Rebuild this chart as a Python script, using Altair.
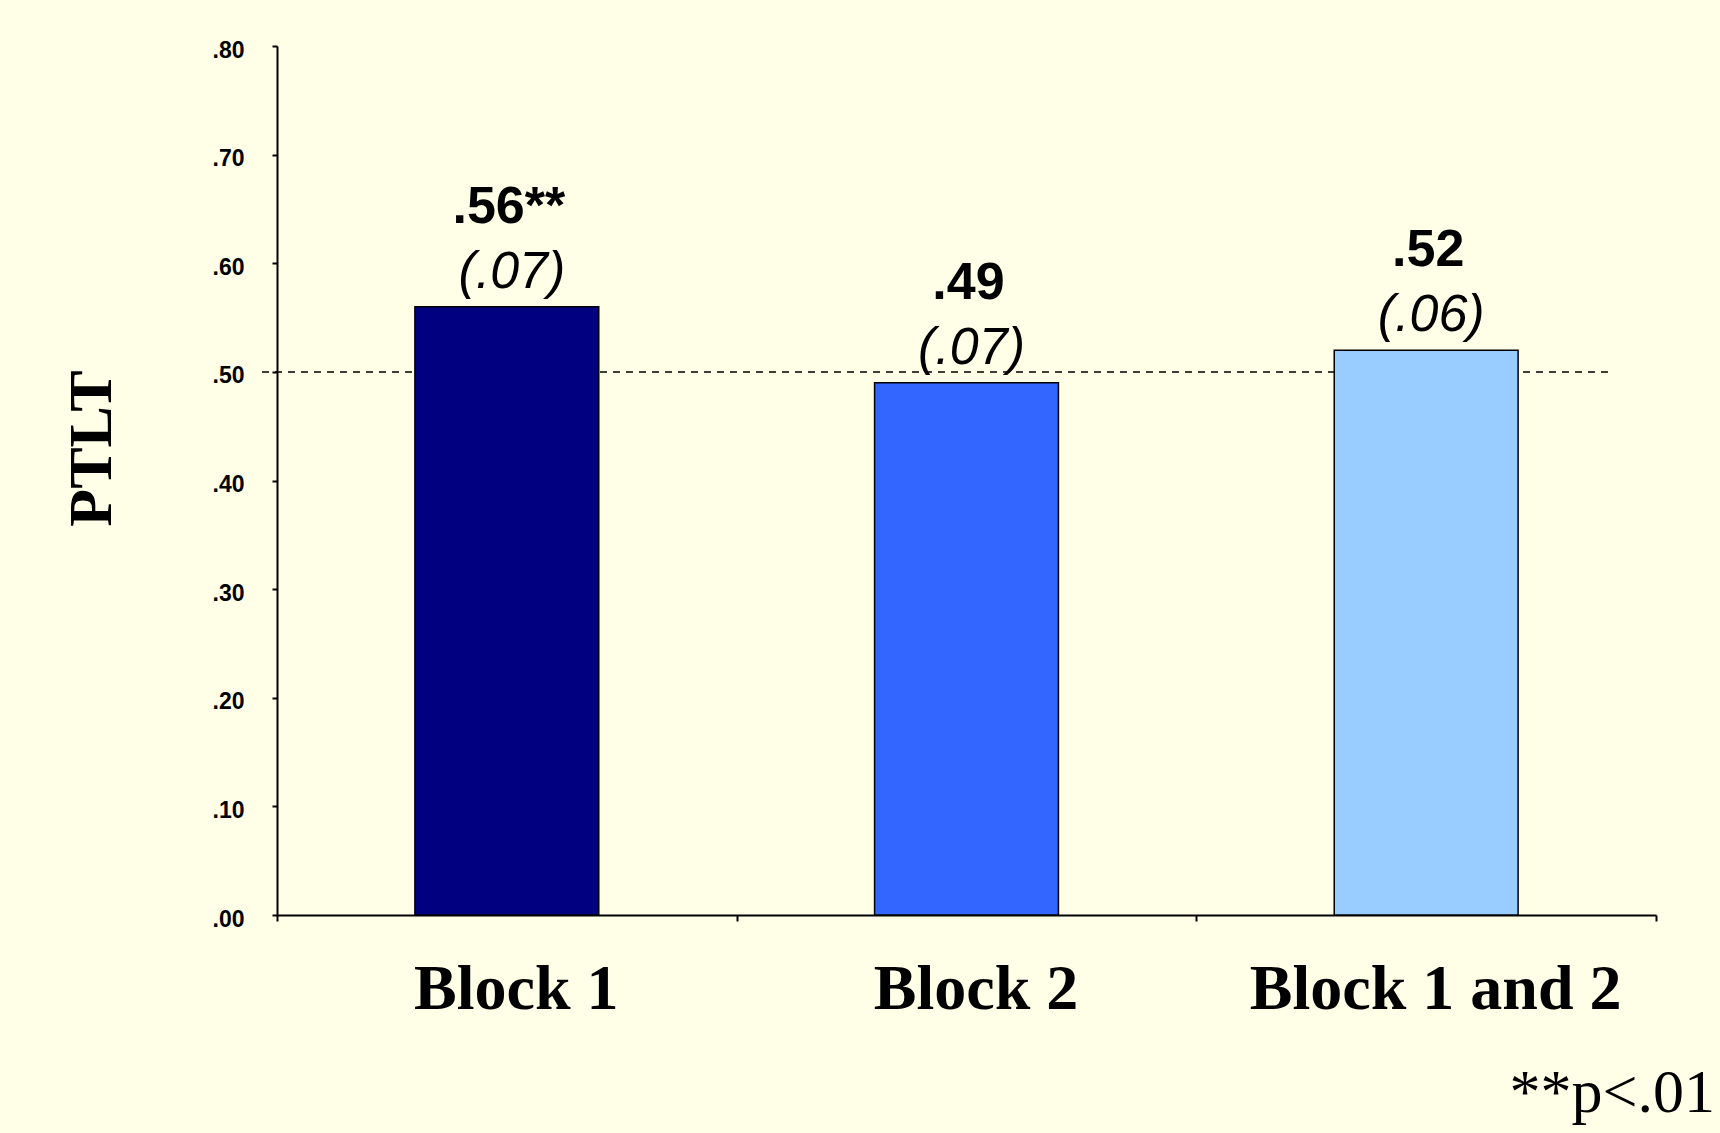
import altair as alt
import pandas as pd

categories = ["Block 1", "Block 2", "Block 1 and 2"]
values = [0.56, 0.49, 0.52]
value_labels = [".56**", ".49", ".52"]
se_labels = ["(.07)", "(.07)", "(.06)"]
colors = ["#000080", "#3366FF", "#99CCFF"]
reference = [0.50]
y_ticks = [0.0, 0.1, 0.2, 0.3, 0.4, 0.5, 0.6, 0.7, 0.8]
footnote = "**p<.01"

df = pd.DataFrame({"cat": categories, "val": values, "vlab": value_labels,
                   "selab": se_labels, "color": colors})
ref_df = pd.DataFrame({"ref": reference})
foot_df = pd.DataFrame({"t": [footnote]})

W, H = 1379, 869

x_scale = alt.Scale(paddingInner=0, paddingOuter=0)
x_enc = alt.X("cat:N", sort=categories, title=None, scale=x_scale,
              axis=alt.Axis(labelAngle=0, labelFont="Liberation Serif", labelFontWeight="bold",
                            labelFontSize=64, labelColor="black", labelPadding=36, labelLimit=1000,
                            labelOffset=9,
                            tickSize=6, tickBand="extent", tickColor="black", tickWidth=2,
                            domainColor="black", domainWidth=2, labelOverlap=False))
y_scale = alt.Scale(domain=[0, 0.8], nice=False)

bars = alt.Chart(df).mark_bar(stroke="black", strokeWidth=1.5,
                              width=alt.RelativeBandSize(0.4)).encode(
    x=x_enc,
    y=alt.Y("val:Q", scale=y_scale, title="PTLT",
            axis=alt.Axis(values=y_ticks, grid=False,
                          labelExpr="substring(format(datum.value, '.2f'), 1)",
                          labelFont="Liberation Sans", labelFontWeight="bold", labelFontSize=23,
                          labelColor="black", labelPadding=28, labelOffset=4,
                          tickSize=5, tickColor="black", tickWidth=2,
                          domainColor="black", domainWidth=2,
                          titleFont="Liberation Serif", titleFontWeight="bold", titleFontSize=62,
                          titleColor="black", titleAngle=270, titleX=-167, titleY=402,
                          titleBaseline="alphabetic", titleAlign="center")),
    color=alt.Color("color:N", scale=None),
)

rule = alt.Chart(ref_df).mark_rule(color="black", strokeWidth=1.5, strokeDash=[7, 6]).encode(
    y=alt.Y("ref:Q", scale=y_scale),
    x=alt.value(-15), x2=alt.value(1336),
)

vlab = alt.Chart(df).mark_text(font="Liberation Sans", fontWeight="bold", fontSize=52,
                               baseline="alphabetic", dy=-84, dx=2, color="black").encode(
    x=alt.X("cat:N", sort=categories, scale=x_scale), y=alt.Y("val:Q", scale=y_scale), text="vlab:N")

selab = alt.Chart(df).mark_text(font="Liberation Sans", fontStyle="italic", fontSize=52,
                                baseline="alphabetic", dy=-19, dx=5, color="black").encode(
    x=alt.X("cat:N", sort=categories, scale=x_scale), y=alt.Y("val:Q", scale=y_scale), text="selab:N")

foot = alt.Chart(foot_df).mark_text(font="Liberation Serif", fontSize=62, align="right",
                                    baseline="alphabetic", color="black").encode(
    text="t:N", x=alt.value(1438), y=alt.value(1066))

chart = alt.layer(rule, bars, vlab, selab, foot).properties(
    width=W, height=H,
    background="#FFFFE8",
    padding={"left": 277, "top": 46, "right": 64, "bottom": 218},
    autosize=alt.AutoSizeParams(type="none"),
).configure_view(stroke=None)

chart.save("out.html", embed_options={"renderer": "svg", "actions": False})
